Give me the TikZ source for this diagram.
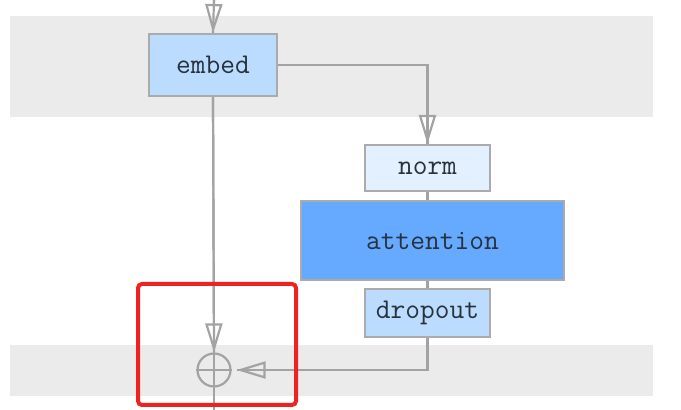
\documentclass[tikz,border=0pt]{standalone}
\usepackage{xcolor}
\usetikzlibrary{arrows.meta}
\definecolor{bandgray}{HTML}{EBEBEB}
\definecolor{linegray}{HTML}{A3A3A3}
\definecolor{boxline}{HTML}{ABABAB}
\definecolor{lightblue}{HTML}{BBDCFF}
\definecolor{paleblue}{HTML}{E3F0FF}
\definecolor{midblue}{HTML}{66AAFF}
\definecolor{textdark}{HTML}{27323D}
\definecolor{markred}{HTML}{EE2222}

\begin{document}
\begin{tikzpicture}
            [x=0.5pt, y=-0.5pt,
            layer/.style={draw=boxline, line width=1pt, rectangle, align=center,
                text=textdark, font=\ttfamily\fontsize{14.3}{16}\selectfont, inner sep=0pt},
            conn/.style={draw=linegray, line width=1.1pt},
            arr/.style={conn, -{Triangle[open, length=14.5pt, width=8.5pt]},
                postaction={draw=linegray, line width=1.1pt, arrows=-}},
            band/.style={fill=bandgray, draw=none}]

            \useasboundingbox (0,0) rectangle (681,410);

            % gray bands
            \fill[band] (10,16) rectangle (653,117);
            \fill[band] (10,345) rectangle (653,396);

            % layers
            \node[layer, fill=lightblue, minimum width=64pt, minimum height=31pt] (embed) at (213,65) {embed};
            \node[layer, fill=paleblue, minimum width=62.5pt, minimum height=23pt] (norm) at (427.5,168) {norm};
            \node[layer, fill=midblue, minimum width=131.5pt, minimum height=39.5pt] (attention) at (432.5,240.5) {attention};
            \node[layer, fill=lightblue, minimum width=62.5pt, minimum height=24pt] (dropout) at (427.5,313) {dropout};
            \node[draw=linegray, line width=1.1pt, circle, minimum size=16.5pt, inner sep=0pt] (add) at (214,370) {};

            \coordinate (in) at (214,0);
            \coordinate (out) at (214,410);

            % connectors
            \draw[arr] (in) -- (embed.north);
            \draw[arr] (embed.east) -| (norm.north);
            \draw[conn] (norm.south) -- (norm.south |- attention.north);
            \draw[conn] (dropout.north |- attention.south) -- (dropout.north);
            \draw[arr] (embed.south) -- (add.north);
            \draw[arr, shorten >=2.5pt] (dropout.south) |- (add.east);
            \draw[conn] (add.south) -- (out);
            \draw[conn] (add.north) -- (add.south) (add.west) -- (add.east);

            % highlight
            \draw[markred, line width=2pt, rounded corners=2pt] (138,284) rectangle (296,405);
        \end{tikzpicture}
\end{document}
